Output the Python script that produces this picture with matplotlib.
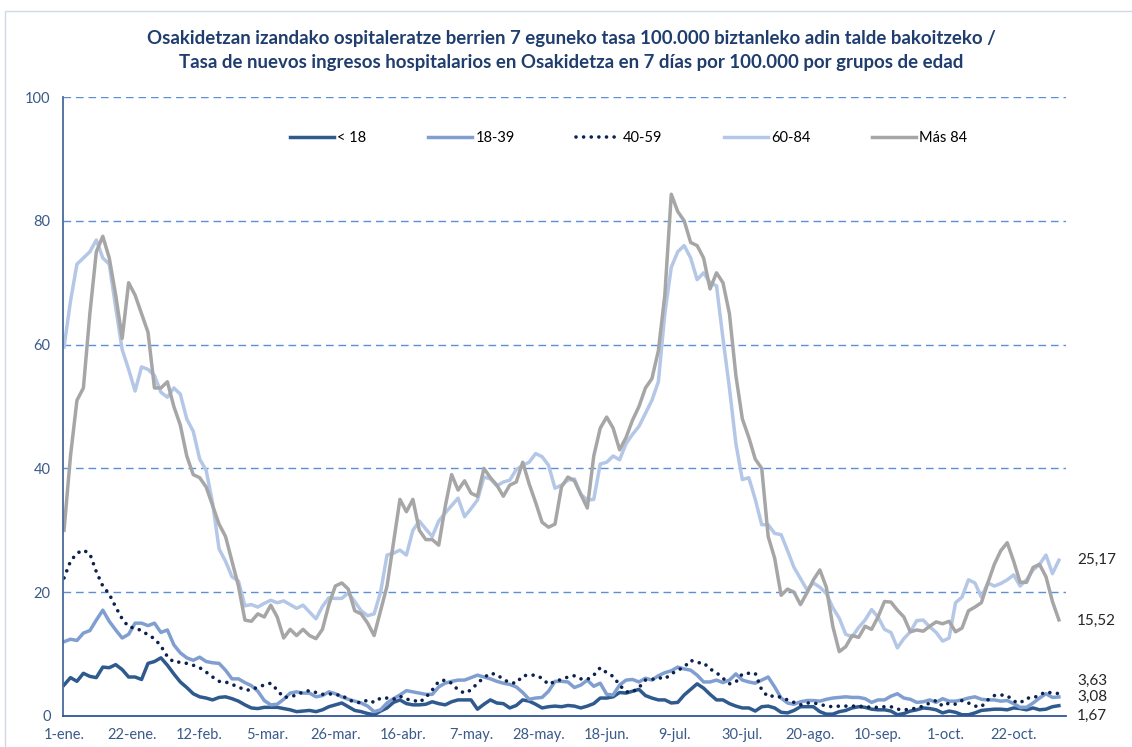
import numpy as np
import matplotlib.pyplot as plt
from matplotlib.patches import Rectangle

plt.rcParams['font.family'] = ['Lato', 'DejaVu Sans']

# tasas, un valor cada 2 dias desde 1-ene
menos18 = [5, 6.2, 5.6, 6.9, 6.4, 6.2, 7.9, 7.8, 8.3, 7.5,
           6.3, 6.3, 5.9, 8.5, 8.8, 9.4, 8.2, 6.8, 5.5, 4.6,
           3.6, 3.1, 2.9, 2.6, 3, 3.1, 2.8, 2.4, 1.8, 1.3,
           1.2, 1.4, 1.4, 1.4, 1.2, 1, 0.7, 0.8, 0.9, 0.7,
           1, 1.5, 1.8, 2.1, 1.5, 0.9, 0.7, 0.4, 0.2, 0.8,
           1.3, 2.2, 2.6, 2, 1.8, 1.8, 1.9, 2.3, 2, 1.8,
           2.3, 2.6, 2.6, 2.6, 1.1, 1.9, 2.6, 2.1, 2, 1.3,
           1.7, 2.6, 2.4, 1.9, 1.3, 1.5, 1.6, 1.5, 1.7, 1.6,
           1.3, 1.6, 2, 2.9, 2.9, 3.1, 3.8, 3.7, 4, 4.3,
           3.3, 2.9, 2.6, 2.6, 2.1, 2.2, 3.4, 4.3, 5.2, 4.5,
           3.5, 2.6, 2.6, 2, 1.6, 1.3, 1.3, 0.8, 1.5, 1.6,
           1.3, 0.6, 0.5, 0.9, 1.5, 1.5, 1.5, 0.7, 0.3, 0.3,
           0.7, 0.9, 1.3, 1.5, 1.4, 1.1, 1, 1, 0.8, 0.2,
           0.4, 0.8, 1, 1.3, 1.2, 1, 0.5, 0.8, 0.6, 0.2,
           0.2, 0.5, 0.9, 1, 1.1, 1.1, 1, 1.3, 1.2, 1,
           1.3, 1, 1.1, 1.5, 1.67]

de18a39 = [12, 12.4, 12.2, 13.4, 13.8, 15.5, 17.1, 15.3, 13.9, 12.6,
           13.2, 15, 15, 14.6, 15, 13.5, 13.9, 11.5, 10.2, 9.4,
           9, 9.5, 8.8, 8.6, 8.5, 7.4, 6, 6, 5.4, 4.9,
           4, 2.5, 1.8, 1.9, 2.7, 3.7, 3.9, 3.7, 3.7, 3.1,
           3.3, 3.9, 3.6, 3.1, 2.7, 2.4, 2.1, 1.6, 0.7, 1,
           2.1, 2.8, 3.4, 4.1, 3.9, 3.7, 3.5, 3.5, 4.7, 5.3,
           5.6, 5.8, 5.8, 6.2, 6.6, 6.3, 6, 5.6, 5.3, 5.1,
           4.7, 3.8, 2.7, 2.9, 3, 4, 5.6, 5.6, 5.5, 4.6,
           5, 5.8, 4.8, 5.3, 3.5, 3.4, 5, 5.8, 5.9, 5.5,
           6.1, 5.8, 6.5, 7, 7.3, 7.9, 7.6, 7.4, 6.6, 5.5,
           5.5, 5.8, 5.4, 5.8, 6.8, 5.8, 5.5, 5.3, 5.8, 6.3,
           4.7, 2.9, 2.1, 1.9, 2.3, 2.5, 2.5, 2.4, 2.7, 2.9,
           3, 3.1, 3, 3, 2.8, 2.2, 2.6, 2.6, 3.2, 3.6,
           2.9, 2.7, 2.2, 2.3, 2.6, 2.2, 2.8, 2.4, 2.4, 2.6,
           2.9, 3.1, 2.7, 2.6, 2.6, 2.4, 2.5, 2, 1.4, 1.4,
           2.1, 2.9, 3.6, 3, 3.08]

de40a59 = [22.3, 25, 26.3, 26.8, 26.2, 23.3, 21, 19.7, 17.6, 15.7,
           14.4, 14.2, 13.8, 13.1, 12.5, 11.3, 9.6, 8.7, 8.7, 8.5,
           8.2, 7.8, 7.1, 6.3, 5.6, 5.5, 5.1, 4.7, 4.2, 4.2,
           4.7, 5, 5.3, 4.2, 3, 3.1, 3.4, 3.9, 4.1, 3.8,
           3.5, 3.6, 3.4, 3.4, 2.6, 2.3, 2.1, 2.6, 2.2, 2.9,
           2.9, 2.7, 3.2, 2.7, 2.6, 2.2, 3, 4.2, 5.6, 5.8,
           5.3, 4.2, 3.7, 4.2, 5.3, 6.2, 6.9, 6.7, 5.9, 5.4,
           5.3, 6.5, 6.6, 6.6, 6.1, 5.1, 5.6, 5.9, 6.3, 6.5,
           6, 5.9, 6.6, 7.8, 7, 6.4, 5, 3.9, 3.9, 4.6,
           5.8, 5.9, 6.2, 6, 6.8, 7.4, 7.9, 9, 8.6, 8.6,
           7.6, 7, 6.1, 5.2, 5.5, 6.8, 6.9, 6.9, 4.2, 3.1,
           3.3, 3, 2.6, 2.2, 1.8, 2.1, 2.1, 1.9, 1.6, 1.5,
           1.6, 1.6, 1.6, 1.6, 1.5, 1.4, 1.4, 1.5, 1.5, 1.1,
           1, 1.1, 1.3, 1.6, 2.1, 2.5, 1.6, 2.1, 1.9, 2.5,
           2.1, 1.6, 1.5, 2.6, 3.3, 3.4, 3.3, 2.4, 2.1, 2.9,
           2.9, 3.4, 3.9, 3.7, 3.63]

de60a84 = [59.6, 67, 73, 74, 75, 76.9, 74, 73, 66, 59.2,
           56, 52.5, 56.4, 56, 55, 52.3, 51.5, 53, 52, 48,
           46, 41.5, 39.7, 34.4, 27, 25, 22.5, 21.8, 17.8, 18,
           17.6, 18.2, 18.7, 18.3, 18.6, 18, 17.4, 17.9, 16.8, 15.7,
           17.7, 19.1, 19, 19, 19.9, 18.5, 17, 16.2, 16.5, 20,
           26, 26.3, 26.8, 26, 30, 31.5, 30.2, 29, 31.5, 32.8,
           34, 35.2, 32.2, 33.5, 34.9, 38.6, 38.3, 37.2, 37.8, 38.1,
           39.8, 40.5, 41, 42.4, 41.9, 40.5, 36.8, 37.3, 38.1, 38.3,
           35.8, 34.9, 35, 40.7, 41, 42, 41.4, 44, 45.5, 46.8,
           48.9, 51, 54, 65, 72.5, 75, 76, 74, 70.5, 71.6,
           70, 69.5, 61, 53, 44, 38.2, 38.5, 35, 30.9, 30.9,
           29.5, 29.3, 26.7, 24, 22.2, 20.4, 21.5, 20.8, 19.8, 17.5,
           15.8, 13.2, 12.8, 14.3, 15.5, 17.2, 16, 14, 13.5, 11,
           12.5, 13.6, 15.4, 15.5, 14.4, 13.5, 12.1, 12.6, 18.3, 19.2,
           22, 21.5, 19.2, 21.5, 21, 21.4, 22, 22.8, 21, 22,
           23.6, 24.5, 26, 23, 25.17]

mas84 = [30, 42, 51, 53, 65, 75, 77.5, 74, 68, 61,
         70, 68, 65, 62, 53, 53, 54, 50, 47, 42,
         39, 38.5, 37, 34, 31, 29, 25, 21, 15.5, 15.3,
         16.5, 16, 17.9, 16, 12.6, 14, 13, 14, 13, 12.5,
         14, 18, 21, 21.5, 20.5, 17, 16.5, 15, 13, 17,
         21, 28, 35, 33, 35, 30, 28.5, 28.5, 27.6, 33.8,
         39, 36.5, 38, 36, 35.5, 40, 38.5, 37.3, 35.5, 37.3,
         37.8, 41, 37.5, 34.5, 31.3, 30.5, 31, 37, 38.6, 38,
         35.8, 33.6, 42, 46.5, 48.3, 46.5, 43, 45, 47.8, 50,
         53, 54.5, 59, 68, 84.3, 81.5, 80, 76.5, 76, 74,
         69, 71.6, 70, 65, 55, 48, 45, 41.5, 40, 29,
         25.5, 19.5, 20.5, 20, 18, 19.9, 22, 23.6, 20.8, 14.5,
         10.4, 11.2, 13, 12.7, 14.5, 14, 16, 18.5, 18.4, 17.1,
         16, 13.6, 13.9, 13.7, 14.5, 15.2, 14.9, 15.3, 13.6, 14.2,
         17, 17.6, 18.3, 21.5, 24.5, 26.7, 28, 25, 21.6, 21.6,
         24, 24.5, 22.5, 18.5, 15.52]

dias = np.arange(len(mas84)) * 2

fechas = ['1-ene.', '22-ene.', '12-feb.', '5-mar.', '26-mar.', '16-abr.', '7-may.',
          '28-may.', '18-jun.', '9-jul.', '30-jul.', '20-ago.', '10-sep.', '1-oct.', '22-oct.']
pos_fechas = np.arange(len(fechas)) * 21

fig = plt.figure(figsize=(11.32, 7.47), dpi=100)
ax = fig.add_axes([0.0557, 0.0415, 0.886, 0.8286])

ax.plot(dias, menos18, color='#2E5A8E', lw=2.5, label='< 18')
ax.plot(dias, de18a39, color='#809FD0', lw=2.5, label='18-39')
ax.plot(dias, de40a59, color='#0B2150', lw=2.6, linestyle=(0, (0.01, 2.1)),
        dash_capstyle='round', label='40-59')
ax.plot(dias, de60a84, color='#B4C7E7', lw=2.5, label='60-84')
ax.plot(dias, mas84, color='#A6A6A6', lw=2.5, label='Más 84')

ax.set_xlim(-0.3, 310.2)
ax.set_ylim(0, 100)
ax.set_yticks([0, 20, 40, 60, 80, 100])
for v in [20, 40, 60, 80, 100]:
    ax.axhline(v, color='#5B8FD8', lw=1, ls=(0, (5.5, 3.5)), zorder=0)

ax.set_xticks(pos_fechas)
ax.set_xticklabels(fechas)
ax.tick_params(axis='both', length=0, labelsize=10.5, labelcolor='#3A5A8A')
ax.tick_params(axis='x', pad=9)
ax.tick_params(axis='y', pad=9)

for s in ['top', 'right']:
    ax.spines[s].set_visible(False)
ax.spines['left'].set_color('#4A6A9C')
ax.spines['bottom'].set_color('#2F5597')
ax.spines['left'].set_linewidth(1.3)
ax.spines['bottom'].set_linewidth(1.3)

ax.legend(loc='center', bbox_to_anchor=(0.564, 0.934), ncol=5, frameon=False,
          handlelength=3.0, columnspacing=4.2, handletextpad=0.25, fontsize=10.5)

# etiquetas del ultimo valor
finales = [(de60a84, '25,17', 0), (mas84, '15,52', -1), (de40a59, '3,63', 9),
           (de18a39, '3,08', 0), (menos18, '1,67', -7.5)]
for serie, txt, dy in finales:
    ax.annotate(txt, xy=(dias[-1], serie[-1]), xytext=(13, dy), textcoords='offset points',
                va='center', ha='left', fontsize=11, color='#262626', annotation_clip=False)

fig.text(0.505, 0.949, 'Osakidetzan izandako ospitaleratze berrien 7 eguneko tasa 100.000 biztanleko adin talde bakoitzeko /',
         ha='center', va='center', fontsize=13.4, fontweight='bold', color='#1F3D6E')
fig.text(0.505, 0.917, 'Tasa de nuevos ingresos hospitalarios en Osakidetza en 7 días por 100.000 por grupos de edad',
         ha='center', va='center', fontsize=13.4, fontweight='bold', color='#1F3D6E')

fig.patches.append(Rectangle((0.0044, -0.01), 1.0, 0.995, transform=fig.transFigure,
                             fill=False, edgecolor='#D0D8E8', lw=1))

fig.savefig('out.png', dpi=100)
